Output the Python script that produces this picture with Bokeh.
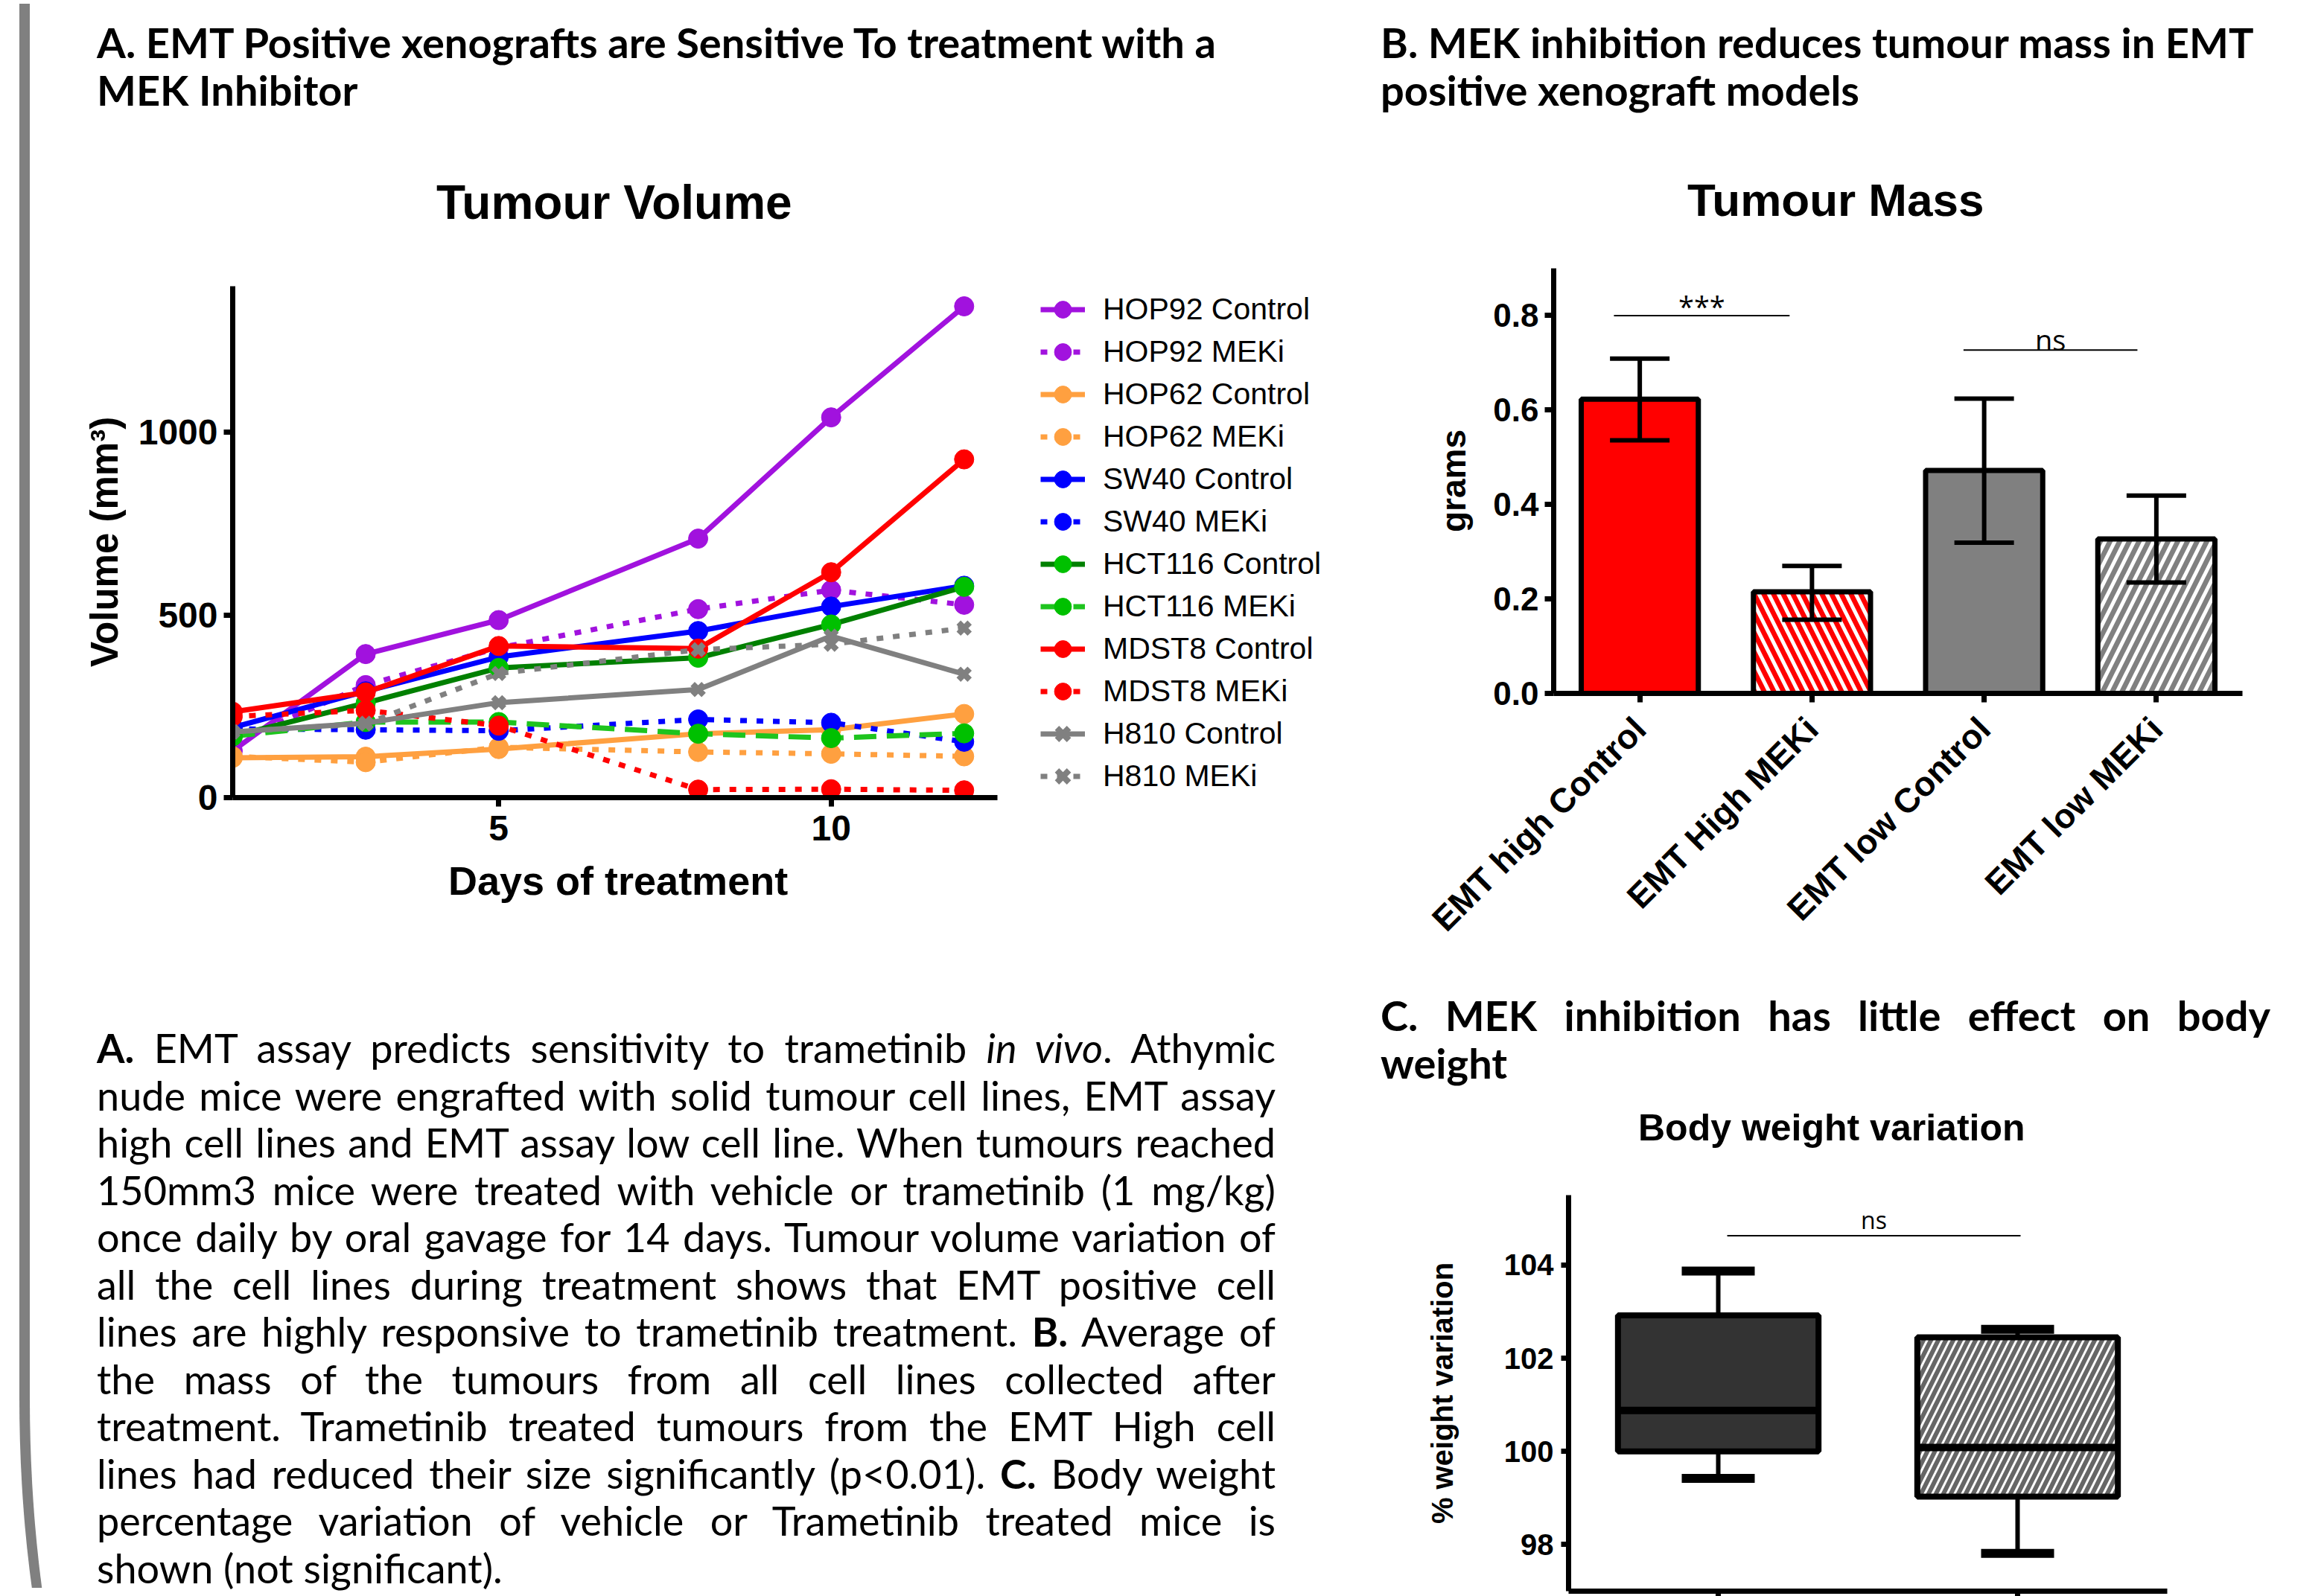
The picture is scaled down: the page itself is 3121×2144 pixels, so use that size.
import math
from bokeh.plotting import figure
from bokeh.models import (Div, Legend, LegendItem, FixedTicker, FactorRange, Range1d,
                          ColumnDataSource, Whisker, TeeHead, NumeralTickFormatter)
from bokeh.layouts import row, column
from bokeh.embed import file_html
from bokeh.resources import INLINE
from bokeh.core.properties import value

# ---------------- data: tumour volume ----------------
days = [1, 3, 5, 8, 10, 12]
hop92_control = [128, 393, 486, 709, 1041, 1345]
hop92_meki = [150, 308, 410, 516, 568, 528]
hop62_control = [109, 112, 133, 175, 186, 229]
hop62_meki = [113, 97, 138, 125, 120, 113]
sw40_control = [192, 291, 385, 456, 523, 580]
sw40_meki = [188, 186, 183, 214, 205, 153]
hct116_control = [168, 259, 355, 383, 474, 577]
hct116_meki = [168, 207, 207, 175, 163, 176]
mdst8_control = [235, 288, 415, 408, 617, 926]
mdst8_meki = [222, 239, 197, 22, 23, 20]
h810_control = [180, 204, 260, 296, 442, 338]
h810_meki = [180, 202, 340, 405, 420, 464]

volume_names = ["HOP92 Control", "HOP92 MEKi", "HOP62 Control", "HOP62 MEKi",
                "SW40 Control", "SW40 MEKi", "HCT116 Control", "HCT116 MEKi",
                "MDST8 Control", "MDST8 MEKi", "H810 Control", "H810 MEKi"]
volume_values = [hop92_control, hop92_meki, hop62_control, hop62_meki,
                 sw40_control, sw40_meki, hct116_control, hct116_meki,
                 mdst8_control, mdst8_meki, h810_control, h810_meki]
volume_line_colors = ["#A112DE", "#A112DE", "#FFA040", "#FFA040", "#0000FF", "#0000FF",
                      "#008000", "#1EC41E", "#FF0000", "#FF0000", "#808080", "#808080"]
volume_marker_colors = ["#A112DE", "#A112DE", "#FFA040", "#FFA040", "#0000FF", "#0000FF",
                        "#00C000", "#00C000", "#FF0000", "#FF0000", "#808080", "#808080"]
volume_dashes = ["solid", "9 13", "solid", "9 13", "solid", "9 13",
                 "solid", "30 14", "solid", "9 13", "solid", "9 13"]
volume_markers = ["circle"] * 10 + ["x", "x"]
volume_xticks = [5, 10]
volume_yticks = [0, 500, 1000]
volume_day_span = (1, 12.5)

# ---------------- data: tumour mass ----------------
mass_groups = ["EMT high Control", "EMT High MEKi", "EMT low Control", "EMT low MEKi"]
mass_mean = [0.623, 0.215, 0.472, 0.327]
mass_lower = [0.536, 0.156, 0.319, 0.235]
mass_upper = [0.709, 0.270, 0.624, 0.419]
mass_colors = ["#FF0000", "#FF0000", "#808080", "#808080"]
mass_hatch = [" ", "\\", " ", "/"]
mass_yticks = [0.0, 0.2, 0.4, 0.6, 0.8]
mass_sig_x0 = [0.35, 2.38]
mass_sig_x1 = [1.37, 3.39]
mass_sig_y = [0.80, 0.727]
mass_sig_label = ["***", "ns"]
mass_sig_label_y = [0.82, 0.75]

# ---------------- data: body weight ----------------
bw_groups = ["Control", "MEKi"]
bw_low = [99.42, 97.81]
bw_q1 = [100.0, 99.03]
bw_median = [100.88, 100.085]
bw_q3 = [102.92, 102.45]
bw_high = [103.87, 102.62]
bw_colors = ["#333333", "#666666"]
bw_hatch = [" ", "/"]
bw_yticks = [98, 100, 102, 104]
bw_sig_x0 = [0.53]
bw_sig_x1 = [1.51]
bw_sig_y = [104.63]
bw_sig_label = ["ns"]
bw_sig_label_y = [104.98]

AX_FONT = "Liberation Sans"
TXT_FONT = "Lato"


def style_axis(ax, label_size, tick_size, lw=7, tick_out=12, standoff=8, label_standoff=16):
    ax.axis_line_width = lw
    ax.axis_line_color = "black"
    ax.major_tick_line_width = lw
    ax.major_tick_line_color = "black"
    ax.major_tick_out = tick_out
    ax.major_tick_in = 0
    ax.minor_tick_in = 0
    ax.minor_tick_out = 0
    ax.major_label_text_font = AX_FONT
    ax.major_label_text_font_style = "bold"
    ax.major_label_text_font_size = tick_size
    ax.major_label_text_color = "black"
    ax.major_label_standoff = standoff
    ax.axis_label_text_font = AX_FONT
    ax.axis_label_text_font_style = "bold"
    ax.axis_label_text_font_size = label_size
    ax.axis_label_text_color = "black"
    ax.axis_label_standoff = label_standoff


def clean(p):
    p.grid.visible = False
    p.outline_line_color = None


# ---------------- chart A: tumour volume ----------------
# the frame is wide enough to hold the legend; the x axis itself only spans the day range
p1 = figure(width=1732, height=812, x_range=Range1d(1, 17.54), y_range=Range1d(0, 1400),
            output_backend="svg", toolbar_location=None,
            min_border_left=250, min_border_right=5, min_border_top=44, min_border_bottom=81)
clean(p1)
p1.yaxis.axis_label = "Volume (mm\u00b3)"
p1.xaxis.ticker = FixedTicker(ticks=volume_xticks)
p1.yaxis.ticker = FixedTicker(ticks=volume_yticks)
p1.xaxis.bounds = volume_day_span
style_axis(p1.xaxis[0], "51px", "48px", standoff=12, label_standoff=14)
style_axis(p1.yaxis[0], "51px", "48px", standoff=8, label_standoff=14)

items = []
for name, ys, lc, mc, dash, mk in zip(volume_names, volume_values, volume_line_colors,
                                       volume_marker_colors, volume_dashes, volume_markers):
    src = ColumnDataSource(dict(x=days, y=ys))
    r_line = p1.line("x", "y", source=src, line_color=lc, line_width=7, line_dash=dash)
    if mk == "x":
        r_mk = p1.scatter("x", "y", source=src, marker="x", size=21, line_color=mc, line_width=8)
    else:
        r_mk = p1.scatter("x", "y", source=src, marker="circle", size=26,
                          fill_color=mc, line_color=mc, line_width=1)
    items.append(LegendItem(label=name, renderers=[r_line, r_mk]))

legend = Legend(items=items, location=(1085, 0), glyph_width=60, glyph_height=57,
                label_height=57, spacing=0, padding=0, margin=0, label_standoff=24,
                label_text_font=AX_FONT, label_text_font_size="41px",
                label_text_color="black", border_line_color=None,
                background_fill_alpha=0)
p1.add_layout(legend)

# ---------------- chart B: tumour mass ----------------
p2 = figure(width=1313, height=962, x_range=FactorRange(factors=mass_groups),
            y_range=Range1d(0, 0.9), output_backend="svg", toolbar_location=None,
            min_border_left=290, min_border_right=98, min_border_top=30, min_border_bottom=361)
clean(p2)
p2.yaxis.axis_label = "grams"
p2.yaxis.ticker = FixedTicker(ticks=mass_yticks)
p2.yaxis.formatter = NumeralTickFormatter(format="0.0")
style_axis(p2.xaxis[0], "44px", "46px", standoff=28)
style_axis(p2.yaxis[0], "46px", "44px", standoff=8, label_standoff=24)
p2.xaxis.major_label_orientation = math.pi / 4

msrc = ColumnDataSource(dict(x=mass_groups, top=mass_mean, lower=mass_lower, upper=mass_upper,
                             color=mass_colors, hatch=mass_hatch))
p2.vbar(x="x", top="top", width=0.68, source=msrc, fill_color="color", line_color="black",
        line_width=7, hatch_pattern="hatch", hatch_color="white", hatch_weight=5, hatch_scale=26)
wm = Whisker(base="x", upper="upper", lower="lower", source=msrc, line_width=6,
             line_color="black", level="annotation",
             upper_head=TeeHead(size=80, line_width=6, line_color="black"),
             lower_head=TeeHead(size=80, line_width=6, line_color="black"))
p2.add_layout(wm)
p2.segment(x0=mass_sig_x0, y0=mass_sig_y, x1=mass_sig_x1, y1=mass_sig_y,
           line_color="black", line_width=2)
p2.text(x=[(a + b) / 2 for a, b in zip(mass_sig_x0, mass_sig_x1)], y=mass_sig_label_y,
        text=mass_sig_label, text_align="center", text_baseline="middle",
        text_font=value("Open Sans"), text_font_size="38px", text_color="black")

# ---------------- chart C: body weight ----------------
p3 = figure(width=1313, height=576, x_range=FactorRange(factors=bw_groups),
            y_range=Range1d(97, 105.5), output_backend="svg", toolbar_location=None,
            min_border_left=310, min_border_right=199, min_border_top=33, min_border_bottom=7)
clean(p3)
p3.yaxis.axis_label = "% weight variation"
p3.yaxis.ticker = FixedTicker(ticks=bw_yticks)
style_axis(p3.xaxis[0], "10px", "1px", tick_out=7, standoff=0, label_standoff=0)
style_axis(p3.yaxis[0], "40px", "40px", tick_out=10, standoff=10, label_standoff=58)
p3.xaxis.major_label_overrides = {g: "" for g in bw_groups}

bsrc = ColumnDataSource(dict(x=bw_groups, low=bw_low, q1=bw_q1, med=bw_median, q3=bw_q3,
                             high=bw_high, color=bw_colors, hatch=bw_hatch))
wb = Whisker(base="x", upper="high", lower="low", source=bsrc, line_width=6,
             line_color="black", level="underlay",
             upper_head=TeeHead(size=98, line_width=12, line_color="black"),
             lower_head=TeeHead(size=98, line_width=12, line_color="black"))
p3.add_layout(wb)
p3.vbar(x="x", bottom="q1", top="q3", width=0.67, source=bsrc, fill_color="color",
        line_color="black", line_width=8, hatch_pattern="hatch", hatch_color="white",
        hatch_weight=3, hatch_scale=20)
p3.rect(x="x", y="med", width=0.67, height=10, height_units="screen", source=bsrc,
        fill_color="black", line_color=None)
p3.segment(x0=bw_sig_x0, y0=bw_sig_y, x1=bw_sig_x1, y1=bw_sig_y, line_color="black", line_width=2)
p3.text(x=[(a + b) / 2 for a, b in zip(bw_sig_x0, bw_sig_x1)], y=bw_sig_label_y,
        text=bw_sig_label, text_align="center", text_baseline="middle",
        text_font=value("Open Sans"), text_font_size="32px", text_color="black")

# ---------------- text blocks ----------------
def abs_block(left, top, inner, style):
    return (f'<div style="position:absolute; left:{left}px; top:{top}px; '
            f'white-space:nowrap; color:black; {style}">{inner}</div>')


HEAD = f"font-family:{TXT_FONT}; font-weight:700; font-size:56px; line-height:64px;"
CHART_T = f"font-family:'{AX_FONT}'; font-weight:700;"

div_a = Div(width=1724, height=330, text=(
    '<div style="position:relative; width:1724px; height:330px;">'
    + abs_block(63, 20, "A. EMT Positive xenografts are Sensitive To treatment with a<br>"
                        "MEK Inhibitor", HEAD)
    + abs_block(519, 227, "Tumour Volume", CHART_T + " font-size:64px; line-height:80px;")
    + '</div>'))

div_b = Div(width=1305, height=320, text=(
    '<div style="position:relative; width:1305px; height:320px;">'
    + abs_block(53, 20, "B. MEK inhibition reduces tumour mass in EMT<br>"
                        "positive xenograft models", HEAD)
    + abs_block(465, 224, "Tumour Mass", CHART_T + " font-size:62px; line-height:80px;")
    + '</div>'))

div_c = Div(width=1305, height=270, text=(
    '<div style="position:relative; width:1305px; height:270px;">'
    + abs_block(53, 35,
                '<div style="width:1195px; text-align:justify; text-align-last:justify;">'
                'C. MEK inhibition has little effect on body</div><div>weight</div>', HEAD)
    + abs_block(399, 188, "Body weight variation", CHART_T + " font-size:50px; line-height:60px;")
    + '</div>'))

caption_lines = [
    "<b>A.</b> EMT assay predicts sensitivity to trametinib <i>in vivo</i>. Athymic",
    "nude mice were engrafted with solid tumour cell lines, EMT assay",
    "high cell lines and EMT assay low cell line. When tumours reached",
    "150mm3 mice were treated with vehicle or trametinib (1 mg/kg)",
    "once daily by oral gavage for 14 days. Tumour volume variation of",
    "all the cell lines during treatment shows that EMT positive cell",
    "lines are highly responsive to trametinib treatment. <b>B.</b> Average of",
    "the mass of the tumours from all cell lines collected after",
    "treatment. Trametinib treated tumours from the EMT High cell",
    "lines had reduced their size significantly (p&lt;0.01). <b>C.</b> Body weight",
    "percentage variation of vehicle or Trametinib treated mice is",
    "shown (not significant).",
]
cap_html = "".join(
    f'<div style="white-space:nowrap; '
    f'text-align:{"justify" if i < len(caption_lines) - 1 else "left"}; '
    f'text-align-last:{"justify" if i < len(caption_lines) - 1 else "left"};">{ln}</div>'
    for i, ln in enumerate(caption_lines))

caption = Div(width=1724, height=986, text=(
    '<div style="position:relative; width:1724px; height:986px;">'
    + abs_block(535, -4, "Days of treatment", CHART_T + " font-size:54px; line-height:60px;")
    + abs_block(63, 219, f'<div style="width:1583px;">{cap_html}</div>',
                f"font-family:{TXT_FONT}; font-size:54px; line-height:63.5px;")
    + '</div>'))

border = Div(width=52, height=2128, styles={"overflow": "hidden"}, text=(
    '<div style="position:relative; left:21px; top:0px; width:600px; height:2472px; '
    'box-sizing:border-box; border-left:14px solid #808080; border-bottom:14px solid #808080; '
    'border-bottom-left-radius:176px 600px;"></div>'))

left_col = column(div_a, p1, caption, spacing=0)
right_col = column(div_b, p2, column(div_c, p3, spacing=0), spacing=0)
layout = row(border, left_col, right_col, spacing=0)

open("out.html", "w").write(file_html(layout, INLINE, title="EMT MEK inhibitor xenografts"))
